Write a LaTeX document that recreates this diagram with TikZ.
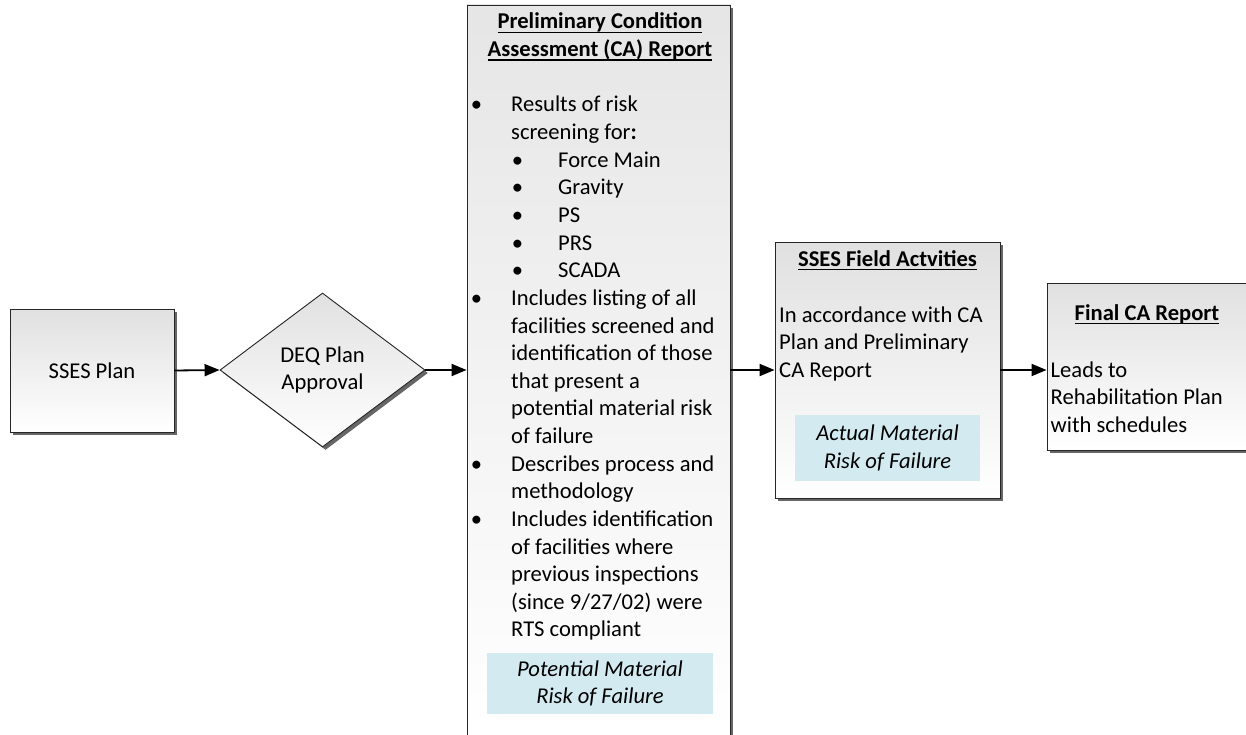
\documentclass[tikz,border=0pt]{standalone}
\usepackage{fontspec}
\setmainfont{Carlito}
\usetikzlibrary{shapes.geometric,shadows,arrows.meta}
\definecolor{teal1}{RGB}{210,234,240}
\newcommand\myul[1]{\setbox0\hbox{#1}\rlap{\rule[-4pt]{\wd0}{1.4pt}}\box0}
\begin{document}
\begin{tikzpicture}[x=1pt,y=-1pt,
  every node/.style={font=\fontsize{22.6pt}{27.6pt}\selectfont, inner sep=0pt},
  shad/.style={drop shadow={shadow xshift=3pt, shadow yshift=-3pt, fill=black!60, opacity=1}},
  procbox/.style={draw=black!85, line width=0.9pt, top color=black!12, bottom color=white, shad},
  tealbox/.style={fill=teal1, align=center, font=\fontsize{22.6pt}{27.6pt}\selectfont\itshape},
  line/.style={anchor=base west},
  head/.style={anchor=base, font=\fontsize{22.6pt}{27.6pt}\selectfont\bfseries},
  bul/.style={anchor=base},
  arr/.style={line width=1.8pt, -{Triangle[length=15pt,width=12pt]}}
]
\useasboundingbox (0,0) rectangle (1246,735);

% boxes
\node[procbox, minimum width=164pt, minimum height=123pt] (sses) at (92,370.5) {SSES Plan};
\node[procbox, diamond, minimum width=205pt, minimum height=154pt, align=center] (deq) at (322.5,370) {DEQ Plan\\Approval};
\node[procbox, top color=black!10, minimum width=263pt, minimum height=730pt] (prelim) at (598.5,370) {};
\node[procbox, minimum width=225pt, minimum height=256pt] (field) at (887.5,370) {};
\node[procbox, minimum width=213pt, minimum height=167pt] (final) at (1153.5,366.5) {};

% preliminary report text
\node[head] (ph1) at (600,29) {\myul{Preliminary Condition}};
\node[head] (ph2) at (600,56.6) {\myul{Assessment (CA) Report}};
\foreach \x/\t [count=\i from 0] in {
  511/{Results of risk},
  511/{screening for\textbf{:}},
  558/{Force Main},
  558/{Gravity},
  558/{PS},
  558/{PRS},
  558/{SCADA},
  511/{Includes listing of all},
  511/{facilities screened and},
  511/{identification of those},
  511/{that present a},
  511/{potential material risk},
  511/{of failure},
  511/{Describes process and},
  511/{methodology},
  511/{Includes identification},
  511/{of facilities where},
  511/{previous inspections},
  511/{(since 9/27/02) were},
  511/{RTS compliant}}
  \node[line] (pl\i) at (\x,112+\i*27.63) {\t};
\foreach \i in {0,7,13,15}
  \node[bul] (pb\i) at (476.5,112+\i*27.63) {\textbullet};
\foreach \i in {2,...,6}
  \node[bul] (psb\i) at (517.5,112+\i*27.63) {\textbullet};
\node[tealbox, minimum width=226pt, minimum height=61pt] (pteal) at (600,683.5) {Potential Material\\Risk of Failure};

% field activities text
\node[head] (fh) at (887.5,266) {\myul{SSES Field Actvities}};
\node[line] (fl1) at (779,322) {In accordance with CA};
\node[line] (fl2) at (779,349.6) {Plan and Preliminary};
\node[line] (fl3) at (779,377.2) {CA Report};
\node[tealbox, minimum width=185pt, minimum height=66pt] (fteal) at (887.5,448) {Actual Material\\Risk of Failure};

% final report text
\node[head] (rh) at (1147,320) {\myul{Final CA Report}};
\node[line] (rl1) at (1050.5,377.2) {Leads to};
\node[line] (rl2) at (1050.5,404.8) {Rehabilitation Plan};
\node[line] (rl3) at (1050.5,432.4) {with schedules};

% connectors
\draw[arr] (sses.east) -- (deq.west);
\draw[arr] (deq.east) -- (deq.east -| prelim.west);
\draw[arr] (prelim.east) -- (field.west);
\draw[arr] (field.east) -- (field.east -| final.west);
\end{tikzpicture}
\end{document}
